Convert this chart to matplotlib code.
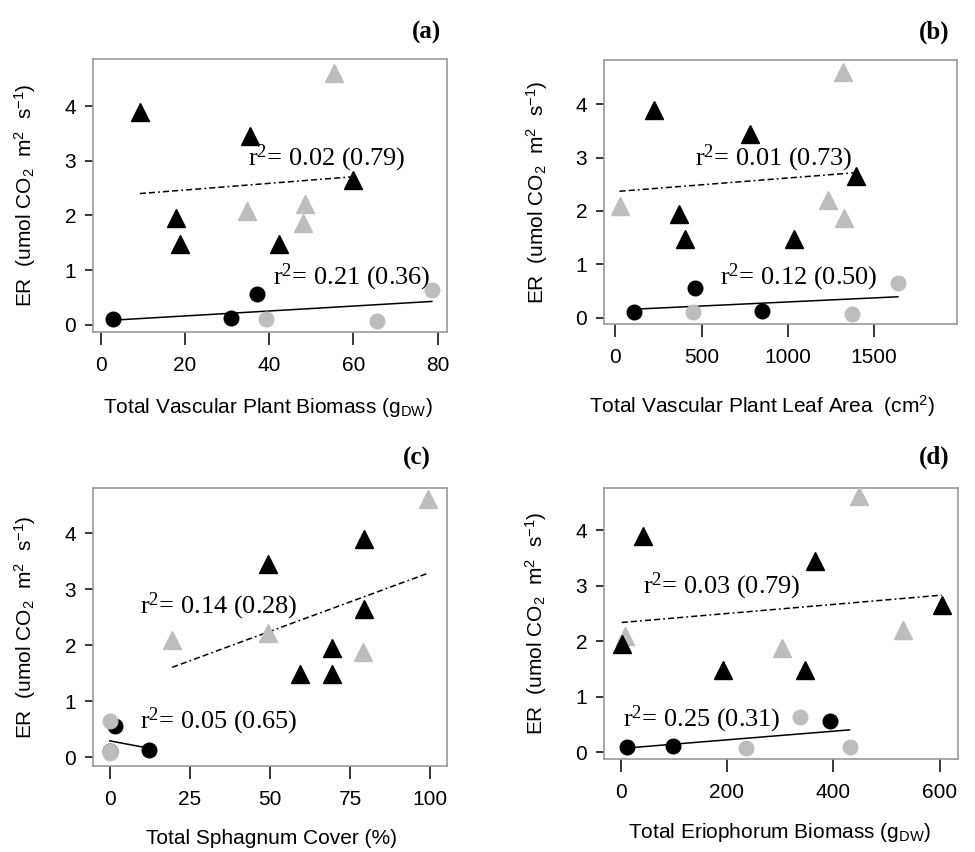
import numpy as np
import matplotlib
matplotlib.use('agg')
import matplotlib.pyplot as plt

plt.rcParams['font.family'] = ['Liberation Sans', 'DejaVu Sans']
plt.rcParams['mathtext.fontset'] = 'custom'
plt.rcParams['mathtext.rm'] = 'Liberation Serif'
plt.rcParams['mathtext.sf'] = 'Liberation Sans'
plt.rcParams['mathtext.it'] = 'Liberation Serif:italic'

# ER, same for every panel (umol CO2 m-2 s-1)
er_tri_black = [3.90, 3.45, 1.95, 1.48, 1.48, 2.65]
er_tri_grey = [4.61, 2.09, 2.21, 1.87]
er_dot_black = [0.10, 0.12, 0.56]
er_dot_grey = [0.10, 0.07, 0.64]

# (a) total vascular plant biomass (g DW)
biomass_tri_black = [9.3, 35.5, 18.0, 18.8, 42.4, 60.0]
biomass_tri_grey = [55.3, 34.8, 48.5, 48.1]
biomass_dot_black = [3.0, 30.9, 37.2]
biomass_dot_grey = [39.3, 65.7, 78.6]

# (b) total vascular plant leaf area (cm2)
leaf_tri_black = [225, 778, 369, 406, 1035, 1392]
leaf_tri_grey = [1320, 25, 1235, 1324]
leaf_dot_black = [108, 853, 460]
leaf_dot_grey = [451, 1372, 1637]

# (c) total sphagnum cover (%)
sphag_tri_black = [79.3, 49.3, 69.2, 69.2, 59.3, 79.3]
sphag_tri_grey = [99.2, 19.5, 49.3, 79.0]
sphag_dot_black = [0.0, 12.3, 1.6]
sphag_dot_grey = [0.0, 0.0, 0.0]

# (d) total eriophorum biomass (g DW)
erio_tri_black = [41.4, 366, 2.0, 192, 347, 604]
erio_tri_grey = [449, 8.0, 532, 303]
erio_dot_black = [12.5, 98, 394]
erio_dot_grey = [430.5, 236, 338]

r2_tri = ['0.02 (0.79)', '0.01 (0.73)', '0.14 (0.28)', '0.03 (0.79)']
r2_dot = ['0.21 (0.36)', '0.12 (0.50)', '0.05 (0.65)', '0.25 (0.31)']

x_labels = [r'Total Vascular Plant Biomass (g$_\mathsf{DW}$)',
            r'Total Vascular Plant Leaf Area  (cm$^\mathsf{2}$)',
            'Total Sphagnum Cover (%)',
            r'Total Eriophorum Biomass (g$_\mathsf{DW}$)']
x_ticks = [[0, 20, 40, 60, 80], [0, 500, 1000, 1500],
           [0, 25, 50, 75, 100], [0, 200, 400, 600]]
panel_tags = ['(a)', '(b)', '(c)', '(d)']

GREY = '#bdbdbd'
FRAME = '#999999'
W, H = 975, 852

# pixel boxes: left, right, top, bottom
boxes = [(93, 447, 59, 332), (604, 957, 60, 324),
         (93, 447, 488, 766), (604, 958, 488, 759)]
xlims = [(-1.8, 82.2), (-65, 1980), (-5.2, 105.2), (-31.4, 634.6)]
ylims = [(-0.13, 4.86), (-0.12, 4.83), (-0.16, 4.81), (-0.12, 4.76)]
txt_tri = [(0.438, 0.637), (0.258, 0.629), (0.133, 0.573), (0.110, 0.637)]
txt_dot = [(0.508, 0.201), (0.329, 0.178), (0.133, 0.159), (0.054, 0.145)]
xlab_pos = [(0.494, -0.275), (0.448, -0.314), (0.504, -0.261), (0.497, -0.272)]
tag_pos = [(441, 32), (949, 32), (431, 458), (949, 457)]

panels = [
    (biomass_tri_black, biomass_tri_grey, biomass_dot_black, biomass_dot_grey),
    (leaf_tri_black, leaf_tri_grey, leaf_dot_black, leaf_dot_grey),
    (sphag_tri_black, sphag_tri_grey, sphag_dot_black, sphag_dot_grey),
    (erio_tri_black, erio_tri_grey, erio_dot_black, erio_dot_grey),
]


def fit_line(ax, x, y, **kw):
    coef = np.polyfit(x, y, 1)
    xs = np.array([min(x), max(x)])
    ax.plot(xs, np.polyval(coef, xs), color='black', zorder=1, **kw)


fig = plt.figure(figsize=(W / 100, H / 100), dpi=100)

for i, (tb, tg, db, dg) in enumerate(panels):
    l, r, t, b = boxes[i]
    ax = fig.add_axes([l / W, 1 - b / H, (r - l) / W, (b - t) / H])

    fit_line(ax, tb + tg, er_tri_black + er_tri_grey,
             lw=1.1, dashes=(4, 2, 4, 2, 1.2, 2))
    fit_line(ax, db + dg, er_dot_black + er_dot_grey, lw=1.1)

    ax.plot(db, er_dot_black, 'o', color='black', ms=10.5, zorder=3)
    ax.plot(dg, er_dot_grey, 'o', color=GREY, ms=10.5, zorder=4)
    ax.plot(tg, er_tri_grey, '^', color=GREY, ms=13, zorder=5)
    ax.plot(tb, er_tri_black, '^', color='black', ms=13, zorder=6)

    ax.text(*txt_tri[i], r'r$^2$= ' + r2_tri[i], transform=ax.transAxes,
            family='Liberation Serif', fontsize=19, ha='left', va='center')
    ax.text(*txt_dot[i], r'r$^2$= ' + r2_dot[i], transform=ax.transAxes,
            family='Liberation Serif', fontsize=19, ha='left', va='center')

    ax.set_xlim(*xlims[i])
    ax.set_ylim(*ylims[i])
    ax.set_xticks(x_ticks[i])
    ax.set_yticks([0, 1, 2, 3, 4])
    for s in ax.spines.values():
        s.set_color(FRAME)
        s.set_linewidth(1.2)
    ax.tick_params(axis='x', length=9, width=1.1, pad=8, labelsize=15)
    ax.tick_params(axis='y', length=6, width=1.1, pad=6, labelsize=15)

    ax.set_xlabel(x_labels[i], fontsize=15)
    ax.xaxis.label.set_va('center')
    ax.xaxis.set_label_coords(*xlab_pos[i])
    ax.set_ylabel(r'ER  (umol CO$_\mathsf{2}$  m$^\mathsf{2}$  s$^\mathsf{-1}$)',
                  fontsize=15)
    ax.yaxis.label.set_va('center')
    ax.yaxis.set_label_coords(-0.19, 0.5)

    fig.text(tag_pos[i][0] / W, 1 - tag_pos[i][1] / H, panel_tags[i],
             family='Liberation Serif', fontweight='bold', fontsize=18,
             ha='right', va='center')

fig.savefig('out.png', dpi=100)
